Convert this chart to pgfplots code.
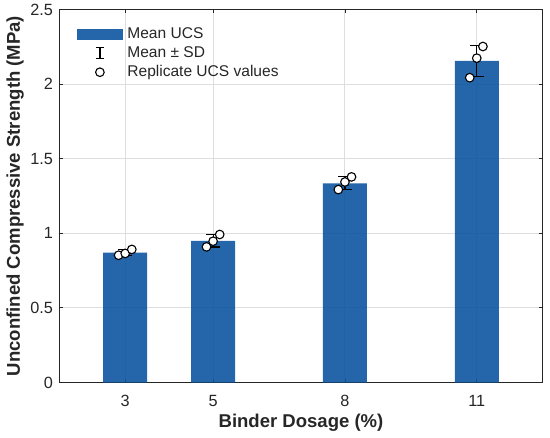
\documentclass[border=0pt]{standalone}
\usepackage{fontspec}
\setmainfont{Liberation Sans}
\usepackage{pgfplots}
\pgfplotsset{compat=1.18}
\definecolor{barblue}{RGB}{12,85,160}
\definecolor{axgray}{RGB}{38,38,38}
\definecolor{gridgray}{RGB}{222,222,222}
\begin{document}
\begin{tikzpicture}
\begin{axis}[
  name=ax,
  scale only axis,
  width=483.4bp, height=373bp,
  xmin=1.5, xmax=12.5, ymin=0, ymax=2.5,
  xtick={3,5,8,11},
  ytick={0,0.5,1,1.5,2,2.5},
  yticklabels={0,0.5,1,1.5,2,2.5},
  /pgf/number format/assume math mode=true,
  tick align=inside, tick pos=both,
  major tick length=3.5bp,
  axis line style={axgray, line width=1bp},
  every tick/.style={axgray, line width=0.8bp},
  grid=major,
  major grid style={gridgray, line width=0.9bp},
  tick label style={font=\fontsize{16.3}{16.3}\selectfont, text=axgray},
  xticklabel style={anchor=base, yshift=-23.7bp, inner sep=0pt},
  yticklabel style={anchor=east, inner sep=0pt, xshift=-6.2bp},
  xlabel={Binder Dosage (\%)},
  ylabel={Unconfined Compressive Strength (MPa)},
  label style={font=\fontsize{18.6}{18.6}\selectfont\bfseries, text=axgray},
  xlabel style={at={(axis description cs:0.5,-0.1214)}, anchor=base, inner sep=0pt},
  ylabel style={at={(axis description cs:-0.0813,0.5)}, anchor=base, inner sep=0pt},
  legend style={at={(axis description cs:0.036,0.953)}, anchor=north west,
    draw=none, fill=none, inner sep=0pt, row sep=5bp, column sep=4.5bp,
    font=\fontsize{15.6}{15.6}\selectfont,
    nodes={inner sep=0pt, text height=11bp, text depth=3bp, text=axgray}},
  legend cell align=left,
]
\addplot[ybar, bar width=1, bar shift=0pt, fill=barblue, fill opacity=0.9, draw=none, forget plot]
  coordinates {(3,0.870) (5,0.949) (8,1.335) (11,2.155)};
\addplot[only marks, mark=none, forget plot,
  error bars/.cd, y dir=both, y explicit,
  error bar style={draw=black, line width=1.2bp},
  error mark options={rotate=90, mark size=7bp, line width=1.2bp, draw=black}]
  coordinates {(3,0.870) +- (0,0.020) (5,0.949) +- (0,0.041) (8,1.335) +- (0,0.044) (11,2.155) +- (0,0.106)};
\addplot[only marks, mark=*, mark size=4.3bp, forget plot,
  mark options={fill=white, draw=black, line width=1.1bp}]
  coordinates {(2.85,0.853) (3,0.865) (3.15,0.892)
               (4.85,0.909) (5,0.947) (5.15,0.992)
               (7.85,1.293) (8,1.344) (8.15,1.378)
               (10.84,2.043) (11,2.174) (11.14,2.252)};
\addlegendimage{legend image code/.code={
  \path[draw=none, fill=none] (0bp,-5.5bp) rectangle (46bp,5.5bp);
  \fill[barblue, fill opacity=0.9, draw=none] (0bp,-5.5bp) rectangle (46bp,5.5bp);}}
\addlegendentry{Mean UCS}
\addlegendimage{legend image code/.code={
  \path[draw=none, fill=none] (0bp,-5.5bp) rectangle (46bp,5.5bp);
  \draw[black, fill=none, line width=1.3bp] (23bp,-5.5bp) -- (23bp,5.5bp);
  \draw[black, fill=none, line width=1.3bp] (19bp,-5.5bp) -- (27bp,-5.5bp);
  \draw[black, fill=none, line width=1.3bp] (19bp,5.5bp) -- (27bp,5.5bp);}}
\addlegendentry{Mean ± SD}
\addlegendimage{legend image code/.code={
  \path[draw=none, fill=none] (0bp,-5.5bp) rectangle (46bp,5.5bp);
  \draw[black, fill=white, line width=1.1bp] (23bp,0bp) circle (4.3bp);}}
\addlegendentry{Replicate UCS values}
\end{axis}
\pgfresetboundingbox
\path[use as bounding box] ([shift={(-59.3bp,-55.5bp)}]ax.south west) rectangle ([shift={(7.3bp,9.5bp)}]ax.north east);
\end{tikzpicture}
\end{document}
